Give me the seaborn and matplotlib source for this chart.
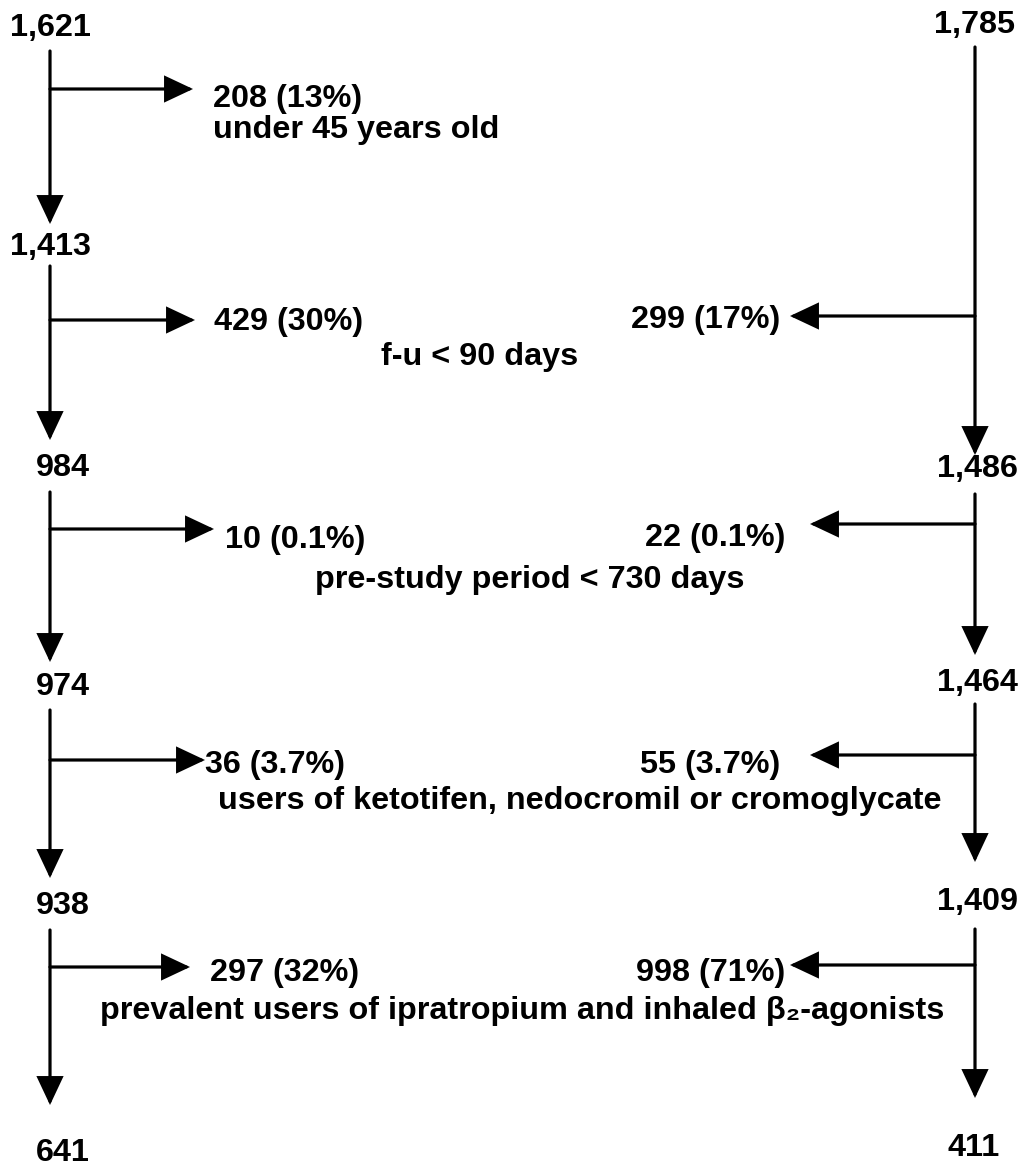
import matplotlib
matplotlib.use("Agg")
import matplotlib.pyplot as plt
import seaborn as sns

# ---------------- data ----------------
left_n = [1621, 1413, 984, 974, 938, 641]
right_n = [1785, None, 1486, 1464, 1409, 411]
left_excl_n = [208, 429, 10, 36, 297]
left_excl_pct = ["13%", "30%", "0.1%", "3.7%", "32%"]
right_excl_n = [None, 299, 22, 55, 998]
right_excl_pct = [None, "17%", "0.1%", "3.7%", "71%"]
reasons = ["under 45 years old",
           "f-u < 90 days",
           "pre-study period < 730 days",
           "users of ketotifen, nedocromil or cromoglycate",
           "prevalent users of ipratropium and inhaled \u03b2\u2082-agonists"]

# ---------------- layout (pixel canvas 1023 x 1176) ----------------
W, H = 1023, 1176
XL, XR = 50, 975
left_label_x = [10, 10, 36, 36, 36, 36]
left_label_base = [36, 255, 476, 695, 914, 1161]
right_label_x = [1015, None, 1018, 1018, 1018, 1000]
right_label_base = [33, None, 477, 691, 910, 1156]
left_seg = [(51, 224), (266, 440), (492, 662), (710, 878), (930, 1105)]
right_seg = [(47, 455), None, (494, 655), (704, 862), (929, 1098)]
left_branch_y = [89, 320, 529, 760, 967]
left_tip_x = [193, 195, 214, 205, 190]
left_excl_x = [213, 214, 225, 205, 210]
left_excl_base = [107, 330, 548, 773, 981]
right_branch_y = [None, 316, 524, 755, 965]
right_tip_x = [None, 790, 810, 810, 790]
right_excl_x = [None, 780, 785, 780, 785]
right_excl_base = [None, 328, 546, 773, 981]
reason_x = [213, 480, 530, 580, 522]
reason_ha = ["left", "center", "center", "center", "center"]
reason_base = [138, 365, 588, 809, 1019]

sns.set_theme(style="white")
plt.rcParams["font.family"] = ["Liberation Sans", "DejaVu Sans"]

FS = 23.3
LW = 2.3
fig = plt.figure(figsize=(W / 100, H / 100), dpi=100)
fig.patch.set_facecolor("white")
ax = fig.add_axes([0, 0, 1, 1])
ax.set_xlim(0, W)
ax.set_ylim(H, 0)
ax.axis("off")

arrow_kw = dict(arrowstyle="-|>,head_length=0.85,head_width=0.4",
                mutation_scale=20, lw=LW, color="black",
                shrinkA=0, shrinkB=0, joinstyle="miter")


def arrow(x0, y0, x1, y1):
    ax.annotate("", xy=(x1, y1), xytext=(x0, y0), xycoords="data",
                arrowprops=arrow_kw)


def txt(x, y, s, ha="left"):
    ax.text(x, y, s, ha=ha, va="baseline", fontsize=FS,
            fontweight="bold", color="black")


# counts
for i, n in enumerate(left_n):
    txt(left_label_x[i], left_label_base[i], f"{n:,}")
for i, n in enumerate(right_n):
    if n is not None:
        txt(right_label_x[i], right_label_base[i], f"{n:,}", ha="right")

# vertical flow arrows
for y0, y1 in left_seg:
    arrow(XL, y0, XL, y1)
for seg in right_seg:
    if seg is not None:
        arrow(XR, seg[0], XR, seg[1])

# exclusion branches
for i in range(len(reasons)):
    arrow(XL, left_branch_y[i], left_tip_x[i], left_branch_y[i])
    txt(left_excl_x[i], left_excl_base[i],
        f"{left_excl_n[i]} ({left_excl_pct[i]})")
    if right_excl_n[i] is not None:
        arrow(XR, right_branch_y[i], right_tip_x[i], right_branch_y[i])
        txt(right_excl_x[i], right_excl_base[i],
            f"{right_excl_n[i]} ({right_excl_pct[i]})", ha="right")
    txt(reason_x[i], reason_base[i], reasons[i], ha=reason_ha[i])

fig.savefig("out.png", dpi=100, facecolor="white")
